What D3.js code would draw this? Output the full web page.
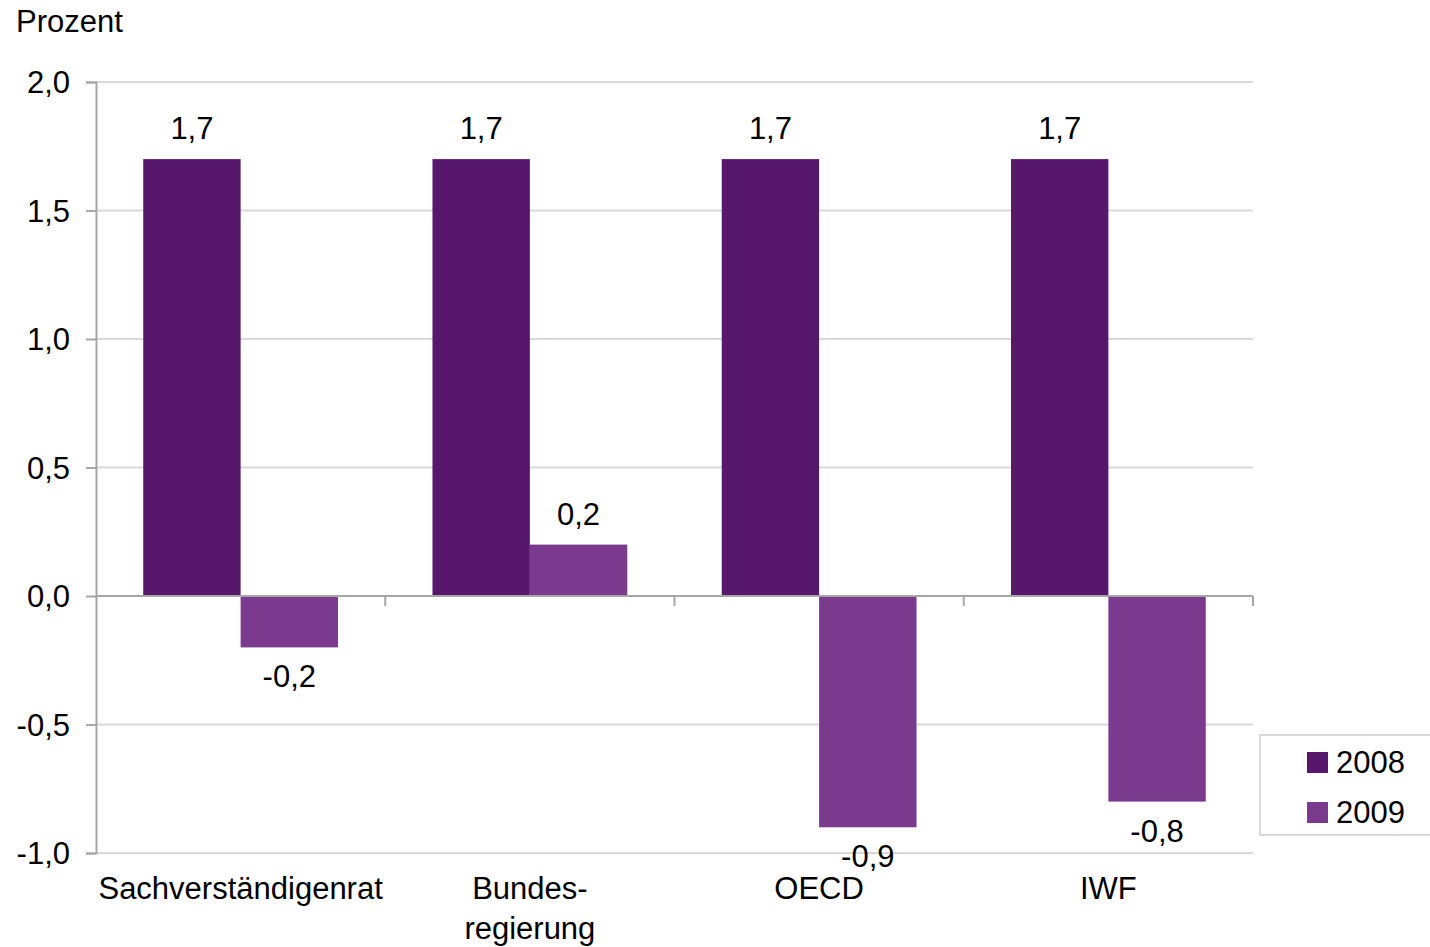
<!DOCTYPE html>
<html>
<head>
<meta charset="utf-8">
<script src="https://cdn.jsdelivr.net/npm/d3@7"></script>
<style>
  body { margin: 0; background: #fff; }
  svg text { font-family: "Liberation Sans", Arial, sans-serif; fill: #000; }
</style>
</head>
<body>
<svg id="chart" width="1430" height="947"></svg>
<script>
// Prognosen Wirtschaftswachstum
var categories = ['Sachverständigenrat', 'Bundes-\nregierung', 'OECD', 'IWF'];
var series = ['2008', '2009'];
var values2008 = [1.7, 1.7, 1.7, 1.7];
var values2009 = [-0.2, 0.2, -0.9, -0.8];
var yTicks = [-1.0, -0.5, 0.0, 0.5, 1.0, 1.5, 2.0];
var colors = ['#56176c', '#7a3a8e'];

var svg = d3.select('#chart');
var plotLeft = 96, plotRight = 1253, plotTop = 82, plotBottom = 853;
var fs = '31px';
var fmt = function (v) { return d3.format('.1f')(v).replace('.', ',').replace('−', '-'); };

var x0 = d3.scaleBand().domain(categories).range([plotLeft, plotRight]).padding(0);
var x1 = d3.scaleBand().domain(series).range([0, x0.bandwidth()])
  .paddingInner(0).paddingOuter(0.485);
var y = d3.scaleLinear().domain([-1, 2]).range([plotBottom, plotTop]);

// gridlines
svg.append('g')
  .selectAll('line')
  .data(yTicks.filter(function (d) { return d !== 0; }))
  .enter().append('line')
    .attr('x1', plotLeft).attr('x2', plotRight)
    .attr('y1', function (d) { return y(d); })
    .attr('y2', function (d) { return y(d); })
    .attr('stroke', '#d9d9d9')
    .attr('stroke-width', 2);

// y axis
var yAxis = d3.axisLeft(y).tickValues(yTicks).tickSize(10).tickPadding(16)
  .tickFormat(fmt);
var ya = svg.append('g').attr('transform', 'translate(' + plotLeft + ',0)').call(yAxis);
ya.select('.domain').attr('stroke', '#a6a6a6').attr('stroke-width', 2);
ya.selectAll('.tick line').attr('stroke', '#a6a6a6').attr('stroke-width', 2);
ya.selectAll('.tick text').style('font-size', fs).attr('font-family', null).attr('dy', '0.35em');

svg.append('text')
  .attr('x', 16).attr('y', 32)
  .style('font-size', fs)
  .text('Prozent');

var rows = categories.map(function (c, i) {
  return { cat: c, vals: [values2008[i], values2009[i]] };
});

var groups = svg.append('g')
  .selectAll('g')
  .data(rows)
  .enter().append('g')
    .attr('transform', function (d) { return 'translate(' + x0(d.cat) + ',0)'; });

groups.selectAll('rect')
  .data(function (d) { return d.vals.map(function (v, i) { return { s: series[i], v: v, i: i }; }); })
  .enter().append('rect')
    .attr('x', function (d) { return x1(d.s); })
    .attr('width', x1.bandwidth())
    .attr('y', function (d) { return y(Math.max(0, d.v)); })
    .attr('height', function (d) { return Math.abs(y(d.v) - y(0)); })
    .attr('fill', function (d) { return colors[d.i]; });

groups.selectAll('text.val')
  .data(function (d) { return d.vals.map(function (v, i) { return { s: series[i], v: v }; }); })
  .enter().append('text')
    .attr('class', 'val')
    .attr('x', function (d) { return x1(d.s) + x1.bandwidth() / 2; })
    .attr('y', function (d) { return d.v >= 0 ? y(d.v) - 20 : y(d.v) + 40; })
    .attr('text-anchor', 'middle')
    .style('font-size', fs)
    .text(function (d) { return fmt(d.v); });

// zero line with category ticks
svg.append('line')
  .attr('x1', plotLeft).attr('x2', plotRight)
  .attr('y1', y(0)).attr('y2', y(0))
  .attr('stroke', '#a6a6a6').attr('stroke-width', 2);

svg.append('g')
  .selectAll('line')
  .data(categories)
  .enter().append('line')
    .attr('x1', function (d) { return x0(d) + x0.bandwidth(); })
    .attr('x2', function (d) { return x0(d) + x0.bandwidth(); })
    .attr('y1', y(0)).attr('y2', y(0) + 10)
    .attr('stroke', '#a6a6a6').attr('stroke-width', 2);

// category labels
var cl = svg.append('g')
  .selectAll('text')
  .data(categories)
  .enter().append('text')
    .attr('text-anchor', 'middle')
    .attr('x', function (d) { return x0(d) + x0.bandwidth() / 2; })
    .attr('y', 899)
    .style('font-size', fs);
cl.selectAll('tspan')
  .data(function (d) { return d.split('\n'); })
  .enter().append('tspan')
    .attr('x', function () { return this.parentNode.getAttribute('x'); })
    .attr('dy', function (d, i) { return i === 0 ? 0 : 40; })
    .text(function (d) { return d; });

// legend
var lg = svg.append('g');
lg.append('rect')
  .attr('x', 1260).attr('y', 735)
  .attr('width', 180).attr('height', 100)
  .attr('fill', '#fff').attr('stroke', '#d9d9d9').attr('stroke-width', 2);
var li = lg.selectAll('g')
  .data(series)
  .enter().append('g')
    .attr('transform', function (d, i) { return 'translate(1307,' + (752 + i * 50) + ')'; });
li.append('rect')
  .attr('width', 21).attr('height', 21)
  .attr('fill', function (d, i) { return colors[i]; });
li.append('text')
  .attr('x', 29).attr('y', 21)
  .style('font-size', fs)
  .text(function (d) { return d; });
</script>
</body>
</html>
